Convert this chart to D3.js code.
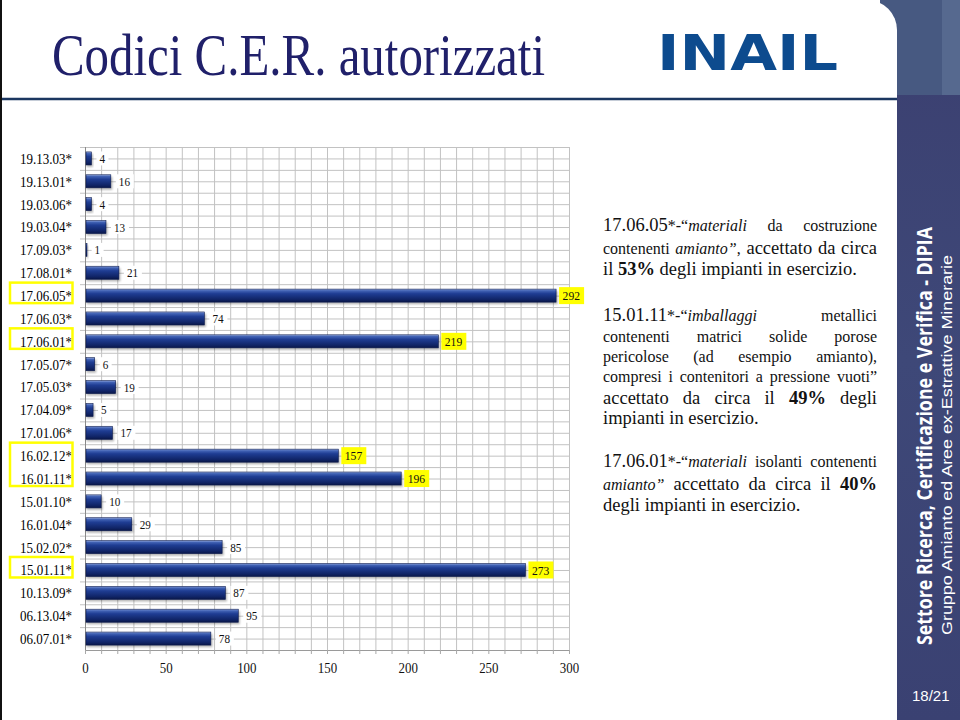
<!DOCTYPE html>
<html>
<head>
<meta charset="utf-8">
<script src="https://cdn.jsdelivr.net/npm/d3@7"></script>
<style>
  body { margin: 0; background: #fff; }
  svg { display: block; }
</style>
</head>
<body>
<div id="chart"></div>
<script>
// categories (top to bottom) and number of plants accepting each code
const cats = ["19.13.03*", "19.13.01*", "19.03.06*", "19.03.04*", "17.09.03*", "17.08.01*",
  "17.06.05*", "17.06.03*", "17.06.01*", "17.05.07*", "17.05.03*", "17.04.09*", "17.01.06*",
  "16.02.12*", "16.01.11*", "15.01.10*", "16.01.04*", "15.02.02*", "15.01.11*", "10.13.09*",
  "06.13.04*", "06.07.01*"];
const counts = [4, 16, 4, 13, 1, 21, 292, 74, 219, 6, 19, 5, 17, 157, 196, 10, 29, 85, 273, 87, 95, 78];
const highlighted = ["17.06.05*", "17.06.01*", "16.02.12*", "16.01.11*", "15.01.11*"];
const xTicks = [0, 50, 100, 150, 200, 250, 300];

// note text: runs of [text, style]; L large, S small, I small italic, B large bold
const notes = [
  [[["17.06.05", "L"], ["*-\u201c", "S"], ["materiali", "I"], [" da costruzione", "S"]], true],
  [[["contenenti ", "S"], ["amianto\u201d", "I"], [", ", "S"], ["accettato da circa", "L"]], true],
  [[["il ", "L"], ["53%", "B"], [" degli impianti in esercizio.", "L"]], false],
  [[["15.01.11", "L"], ["*-\u201c", "S"], ["imballaggi", "I"], [" metallici", "S"]], true],
  [[["contenenti matrici solide porose", "S"]], true],
  [[["pericolose (ad esempio amianto),", "S"]], true],
  [[["compresi i contenitori a pressione vuoti\u201d", "S"]], true],
  [[["accettato da circa il ", "L"], ["49%", "B"], [" degli", "L"]], true],
  [[["impianti in esercizio.", "L"]], false],
  [[["17.06.01", "L"], ["*-\u201c", "S"], ["materiali", "I"], [" isolanti contenenti", "S"]], true],
  [[["amianto\u201d", "I"], [" accettato da circa il ", "L"], ["40%", "B"]], true],
  [[["degli impianti in esercizio.", "L"]], false]
];
const noteBaselines = [231, 254, 275, 321, 342, 362, 382, 404, 424, 467, 490, 511];

const W = 960, H = 720;
const serif = "'Liberation Serif', 'Times New Roman', serif";
const sans = "'Liberation Sans', Arial, sans-serif";

const svg = d3.select("#chart").append("svg")
  .attr("width", W)
  .attr("height", H);

const defs = svg.append("defs");
const grad = defs.append("linearGradient")
  .attr("id", "barGrad")
  .attr("x1", 0).attr("y1", 0).attr("x2", 0).attr("y2", 1);
[[0, "#9fb3e3"], [0.12, "#4364b6"], [0.35, "#1f3d93"], [0.8, "#102466"], [1, "#0a1748"]]
  .forEach(([o, c]) => grad.append("stop").attr("offset", o).attr("stop-color", c));
defs.append("filter").attr("id", "shadow")
  .append("feGaussianBlur").attr("stdDeviation", 1.2);
const side = defs.append("linearGradient")
  .attr("id", "sideGrad")
  .attr("x1", 0).attr("y1", 0).attr("x2", 0).attr("y2", 1);
[[0, "#3b3f70"], [0.5, "#3e4878"], [1, "#3a4172"]]
  .forEach(([o, c]) => side.append("stop").attr("offset", o).attr("stop-color", c));

// right band
svg.append("rect").attr("x", 880).attr("y", 0).attr("width", 80).attr("height", H).attr("fill", "url(#sideGrad)");
svg.append("rect").attr("x", 880).attr("y", 0).attr("width", 80).attr("height", 95).attr("fill", "#475981");
svg.append("rect").attr("x", 942).attr("y", 0).attr("width", 18).attr("height", 95).attr("fill", "#56698f");

// white slide panel with rounded top-right corner
svg.append("path")
  .attr("d", "M0,0 H867 A30,30 0 0 1 897,30 V720 H0 Z")
  .attr("fill", "#fff");
svg.append("rect").attr("x", 0).attr("y", 0).attr("width", 2).attr("height", H).attr("fill", "#111");

// header
svg.append("text")
  .attr("x", 52).attr("y", 75)
  .attr("textLength", 493).attr("lengthAdjust", "spacingAndGlyphs")
  .style("font-family", serif).style("font-size", "60px")
  .attr("fill", "#20206a")
  .text("Codici C.E.R. autorizzati");
svg.append("text")
  .attr("x", 657).attr("y", 70)
  .attr("textLength", 181).attr("lengthAdjust", "spacingAndGlyphs")
  .style("font-family", "'DejaVu Sans', sans-serif").style("font-weight", "bold").style("font-size", "50px")
  .attr("fill", "#0d4b8e")
  .text("INAIL");
svg.append("line")
  .attr("x1", 2).attr("x2", 897).attr("y1", 99).attr("y2", 99)
  .attr("stroke", "#1b3660").attr("stroke-width", 2.5);

// chart
const x = d3.scaleLinear().domain([0, 300]).range([85, 569]);
const y = d3.scaleBand().domain(cats).range([147, 650]).paddingInner(0.43).paddingOuter(0.215);
const yTop = y.range()[0], yBottom = y.range()[1], step = y.step();

const grid = svg.append("g").attr("stroke", "#c2c2c2").attr("stroke-width", 1);
grid.selectAll(".v").data(d3.range(10, 301, 10)).join("line")
  .attr("x1", d => x(d) + 0.5).attr("x2", d => x(d) + 0.5)
  .attr("y1", yTop).attr("y2", yBottom);
grid.selectAll(".h").data(d3.range(0, cats.length * 2)).join("line")
  .attr("x1", d => d % 2 ? x(0) : x(0) - 5).attr("x2", x(300))
  .attr("y1", d => yTop + d * step / 2 + 0.5).attr("y2", d => yTop + d * step / 2 + 0.5);

// bottom axis
const xAxis = svg.append("g")
  .attr("transform", `translate(0,${yBottom})`)
  .call(d3.axisBottom(x).tickValues(d3.range(0, 301, 10)).tickSize(4)
    .tickFormat(d => xTicks.includes(d) ? d : ""));
xAxis.select(".domain").attr("stroke", "#9a9a9a");
xAxis.selectAll(".tick line").attr("stroke", "#a8a8a8");
xAxis.selectAll(".tick text")
  .attr("y", 12).attr("dy", "0.71em")
  .attr("transform", "scale(0.86,1)")
  .style("font-family", serif).style("font-size", "15px").attr("fill", "#111");

// left axis
svg.append("line")
  .attr("x1", x(0) + 0.5).attr("x2", x(0) + 0.5).attr("y1", yTop).attr("y2", yBottom)
  .attr("stroke", "#8a8a8a");

// category labels
svg.append("g").selectAll("text").data(cats).join("text")
  .attr("transform", d => `translate(72,${y(d) + y.bandwidth() / 2}) scale(0.84,1)`)
  .attr("dy", "0.35em")
  .attr("text-anchor", "end")
  .style("font-family", serif).style("font-size", "15.5px")
  .attr("fill", "#000")
  .text(d => d);

// yellow boxes around highlighted categories (consecutive ones share a box)
const groups = [];
cats.forEach((c, i) => {
  if (!highlighted.includes(c)) return;
  const last = groups[groups.length - 1];
  if (last && last[1] === i - 1) last[1] = i; else groups.push([i, i]);
});
svg.append("g").selectAll("rect").data(groups).join("rect")
  .attr("x", 10)
  .attr("y", d => y(cats[d[0]]) + y.bandwidth() / 2 - 13)
  .attr("width", 62.5)
  .attr("height", d => y(cats[d[1]]) - y(cats[d[0]]) + 20.5)
  .attr("fill", "none").attr("stroke", "#ffff00").attr("stroke-width", 2.5);

// bars
const data = cats.map((c, i) => ({ cat: c, v: counts[i], hi: highlighted.includes(c) }));
const bars = svg.append("g");
bars.selectAll(".shadow").data(data).join("rect")
  .attr("x", x(0) + 1.5)
  .attr("y", d => y(d.cat) + 2)
  .attr("width", d => x(d.v) - x(0))
  .attr("height", y.bandwidth())
  .attr("fill", "#000").attr("opacity", 0.3)
  .attr("filter", "url(#shadow)");
bars.selectAll(".bar").data(data).join("rect")
  .attr("x", x(0) + 1)
  .attr("y", d => y(d.cat))
  .attr("width", d => Math.max(1, x(d.v) - x(0) - 1))
  .attr("height", y.bandwidth())
  .attr("fill", "url(#barGrad)")
  .attr("stroke", "#0b1a4f").attr("stroke-width", 0.6);

// value labels
const labels = svg.append("g").selectAll("g").data(data).join("g")
  .attr("transform", d => `translate(${x(d.v) + (d.hi ? 3 : 5)},${y(d.cat) + y.bandwidth() / 2})`);
labels.append("rect")
  .attr("x", 0).attr("y", d => d.hi ? -8.5 : -7)
  .attr("width", d => d.hi ? 25 : String(d.v).length * 6 + 6)
  .attr("height", d => d.hi ? 17 : 14)
  .attr("fill", d => d.hi ? "#ffff00" : "#fff");
labels.append("text")
  .attr("transform", d => `translate(${d.hi ? 3.5 : 3},0) scale(0.86,1)`)
  .attr("dy", "0.35em")
  .style("font-family", serif).style("font-size", d => d.hi ? "13.5px" : "13px")
  .attr("fill", "#111")
  .text(d => d.v);

// notes, justified between 603 and 877
const styles = {
  L: { size: 18.5, style: "normal", weight: "normal" },
  B: { size: 18.5, style: "normal", weight: "bold" },
  S: { size: 16, style: "normal", weight: "normal" },
  I: { size: 16, style: "italic", weight: "normal" }
};
const noteG = svg.append("g").style("font-family", serif).attr("fill", "#111");
const left = 603, right = 877;
notes.forEach(([runs, justify], li) => {
  const words = [];
  let cur = [];
  runs.forEach(([t, s]) => {
    t.split(" ").forEach((p, i) => {
      if (i > 0 && cur.length) { words.push(cur); cur = []; }
      if (p) cur.push([p, s]);
    });
  });
  if (cur.length) words.push(cur);
  const items = words.map(w => w.map(([t, s]) => {
    const st = styles[s];
    const el = noteG.append("text")
      .attr("y", noteBaselines[li])
      .style("font-size", st.size + "px")
      .style("font-style", st.style)
      .style("font-weight", st.weight)
      .text(t);
    return { el, w: el.node().getComputedTextLength(), size: st.size };
  }));
  const total = d3.sum(items, ws => d3.sum(ws, d => d.w));
  const gap = justify && items.length > 1 ? (right - left - total) / (items.length - 1) : null;
  let cx = left;
  items.forEach(ws => {
    ws.forEach(d => { d.el.attr("x", cx); cx += d.w; });
    cx += gap !== null ? gap : ws[0].size * 0.25;
  });
});

// side band texts
svg.append("text")
  .attr("transform", "translate(932,645) rotate(-90)")
  .attr("textLength", 418).attr("lengthAdjust", "spacingAndGlyphs")
  .style("font-family", "'Open Sans', sans-serif").style("font-weight", "bold").style("font-size", "22px")
  .attr("fill", "#fff")
  .text("Settore Ricerca, Certificazione e Verifica - DIPIA");
svg.append("text")
  .attr("transform", "translate(952,635) rotate(-90)")
  .attr("textLength", 380).attr("lengthAdjust", "spacingAndGlyphs")
  .style("font-family", sans).style("font-size", "15px")
  .attr("fill", "#fff")
  .text("Gruppo Amianto ed Aree ex-Estrattive Minerarie");
svg.append("text")
  .attr("x", 912).attr("y", 701)
  .style("font-family", sans).style("font-size", "15px")
  .attr("fill", "#fff")
  .text("18/21");
</script>
</body>
</html>
